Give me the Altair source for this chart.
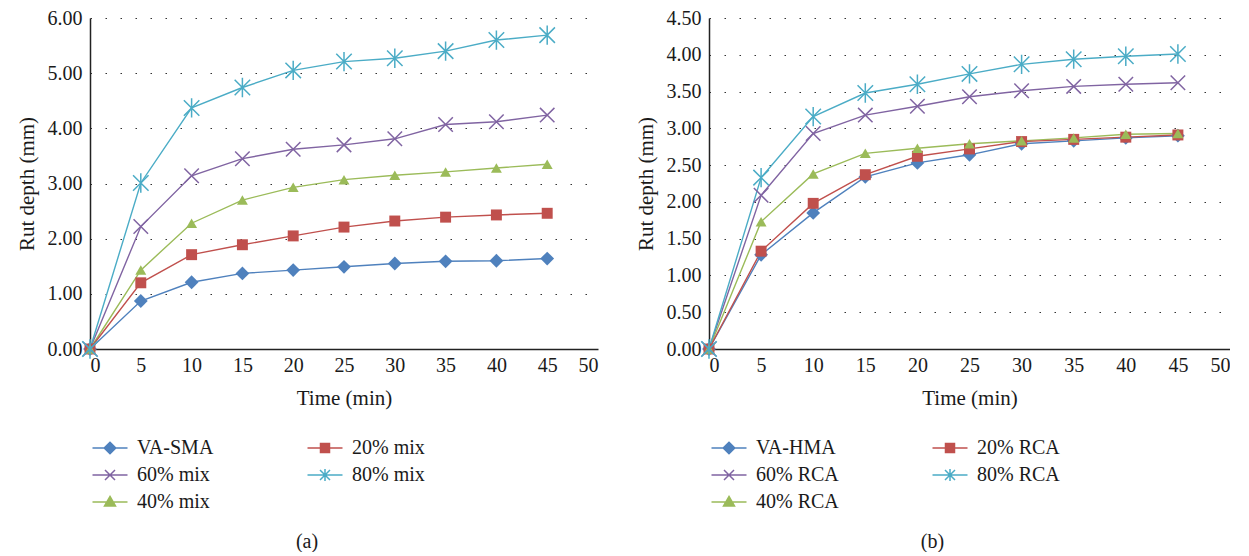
import altair as alt
import pandas as pd

# ---------------- data ----------------
time = [0, 5, 10, 15, 20, 25, 30, 35, 40, 45]

# panel (a)  (order = legend order, filled column by column)
a_names = ["VA-SMA", "60% mix", "40% mix", "20% mix", "80% mix"]
a_va = [0, 0.87, 1.21, 1.37, 1.43, 1.49, 1.55, 1.59, 1.60, 1.64]
a_60 = [0, 2.22, 3.14, 3.45, 3.62, 3.70, 3.81, 4.07, 4.12, 4.24]
a_40 = [0, 1.43, 2.28, 2.70, 2.93, 3.07, 3.15, 3.21, 3.28, 3.35]
a_20 = [0, 1.20, 1.71, 1.89, 2.05, 2.21, 2.32, 2.39, 2.43, 2.46]
a_80 = [0, 3.01, 4.37, 4.74, 5.05, 5.21, 5.27, 5.40, 5.60, 5.69]

# panel (b)
b_names = ["VA-HMA", "60% RCA", "40% RCA", "20% RCA", "80% RCA"]
b_va = [0, 1.28, 1.85, 2.34, 2.53, 2.64, 2.79, 2.83, 2.87, 2.90]
b_60 = [0, 2.09, 2.93, 3.18, 3.30, 3.43, 3.51, 3.57, 3.60, 3.62]
b_40 = [0, 1.73, 2.38, 2.66, 2.73, 2.79, 2.83, 2.87, 2.92, 2.93]
b_20 = [0, 1.33, 1.98, 2.37, 2.62, 2.72, 2.82, 2.85, 2.88, 2.91]
b_80 = [0, 2.33, 3.16, 3.48, 3.60, 3.74, 3.87, 3.94, 3.98, 4.01]

x_ticks = [0, 5, 10, 15, 20, 25, 30, 35, 40, 45, 50]
a_y_ticks = [0, 1, 2, 3, 4, 5, 6]
b_y_ticks = [0, 0.5, 1, 1.5, 2, 2.5, 3, 3.5, 4, 4.5]

# ---------------- styles ----------------
FONT = "Liberation Serif"
PLOT_H = 331
# colours in the same order as the names: base, 60%, 40%, 20%, 80%
colors = ["#4F81BD", "#8064A2", "#9BBB59", "#C0504D", "#4BACC6"]
XPATH = "M-1,-1L1,1M1,-1L-1,1"
STARPATH = "M-1,-1L1,1M1,-1L-1,1M0,-1.25L0,1.25"
# chart markers: (shape, filled, size)
markers = [
    ("diamond", True, 190),
    (XPATH, False, 210),
    ("triangle-up", True, 120),
    ("square", True, 120),
    (STARPATH, False, 240),
]
LINE = "M-1.75,0L1.75,0"
legend_paths = [
    LINE + "M0,-0.58L0.58,0L0,0.58L-0.58,0Z",
    LINE + "M-0.5,-0.5L0.5,0.5M0.5,-0.5L-0.5,0.5",
    LINE + "M0,-0.55L0.55,0.4L-0.55,0.4Z",
    LINE + "M-0.45,-0.45L0.45,-0.45L0.45,0.45L-0.45,0.45Z",
    LINE + "M-0.5,-0.5L0.5,0.5M0.5,-0.5L-0.5,0.5M0,-0.6L0,0.6",
]
draw_order = [0, 3, 2, 1, 4]  # VA, 20%, 40%, 60%, 80% (80% on top)


def make_df(names, series):
    rows = []
    for n, vals in zip(names, series):
        for t, v in zip(time, vals):
            rows.append({"time": t, "depth": v, "series": n})
    return pd.DataFrame(rows)


def panel(names, series, ymax, yticks, width, caption):
    df = make_df(names, series)
    cscale = alt.Scale(domain=names, range=colors)
    x = alt.X("time:Q", scale=alt.Scale(domain=[0, 50], nice=False),
              axis=alt.Axis(values=x_ticks, title="Time (min)", grid=False,
                            format="d"))
    y = alt.Y("depth:Q", scale=alt.Scale(domain=[0, ymax], nice=False),
              axis=alt.Axis(values=yticks, title="Rut depth (mm)", format=".2f",
                            grid=True))
    leg = alt.Legend(title=None, orient="none", legendX=9, legendY=PLOT_H + 88,
                     columns=2, symbolSize=400, symbolStrokeWidth=1.5,
                     labelFont=FONT, labelFontSize=20, labelColor="#1a1a1a",
                     labelOffset=16, rowPadding=6, columnPadding=90,
                     symbolOpacity=1)
    # legend-only layer (no marks drawn); first so that its legend wins the merge
    legend_layer = alt.Chart(df).transform_filter("false").mark_point(
        filled=False, opacity=1).encode(
        x=x, y=y,
        color=alt.Color("series:N", scale=cscale, legend=leg),
        fill=alt.Fill("series:N", scale=cscale, legend=leg),
        shape=alt.Shape("series:N", scale=alt.Scale(domain=names, range=legend_paths),
                        legend=leg),
    )
    lines = alt.Chart(df).mark_line(strokeWidth=1.4).encode(
        x=x, y=y, color=alt.Color("series:N", scale=cscale, legend=None),
        detail="series:N")
    layers = [legend_layer, lines]
    for i in draw_order:
        n, col, (shp, filled, sz) = names[i], colors[i], markers[i]
        if filled:
            m = alt.Chart(df).transform_filter(alt.datum.series == n).mark_point(
                shape=shp, filled=True, size=sz, color=col, opacity=1)
        else:
            m = alt.Chart(df).transform_filter(alt.datum.series == n).mark_point(
                shape=shp, filled=False, size=sz, color=col, opacity=1,
                strokeWidth=1.5)
        layers.append(m.encode(x=x, y=y))
    return alt.layer(*layers).properties(
        width=width, height=PLOT_H,
        title=alt.TitleParams(caption, orient="bottom", anchor="middle",
                              frame="bounds", font=FONT, fontSize=20,
                              fontWeight="normal", color="#1a1a1a", offset=20))


pa = panel(a_names, [a_va, a_60, a_40, a_20, a_80], 6, a_y_ticks, 508, "(a)")
pb = panel(b_names, [b_va, b_60, b_40, b_20, b_80], 4.5, b_y_ticks, 521, "(b)")

chart = alt.hconcat(pa, pb, spacing=37).resolve_scale(
    color="independent", fill="independent", shape="independent"
).resolve_legend(
    color="independent", fill="independent", shape="independent"
).properties(
    padding={"left": 8, "top": 0, "right": 0, "bottom": 0}
).configure_view(stroke=None).configure_axis(
    labelFont=FONT, labelFontSize=20, labelColor="#1a1a1a",
    titleFont=FONT, titleFontSize=21, titleFontWeight="normal", titleColor="#1a1a1a",
    domainColor="#222222", domainWidth=1.5, ticks=False, labelPadding=8,
    titlePadding=10, gridColor="#333333", gridDash=[1.5, 13.5], gridWidth=1.2,
).configure_axisX(labelPadding=6, titlePadding=12)

chart.save("out.html", embed_options={"renderer": "svg", "actions": False})
